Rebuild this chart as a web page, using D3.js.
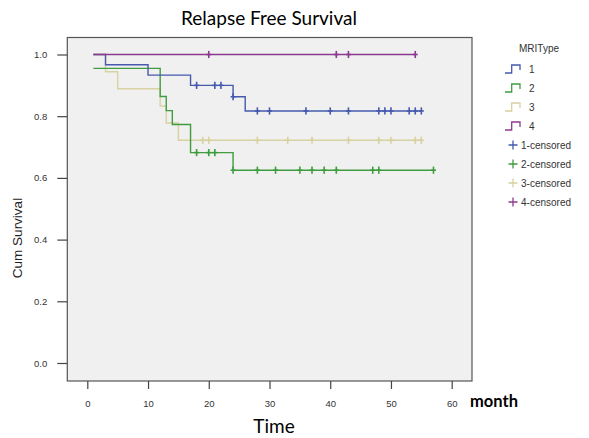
<!DOCTYPE html>
<html>
<head>
<meta charset="utf-8">
<script src="https://cdn.jsdelivr.net/npm/d3@7"></script>
<style>
  body { margin: 0; background: #fff; }
  svg { display: block; }
</style>
</head>
<body>
<script>
// survival steps per MRI type: event times and the level after each drop
const groups = ["1", "2", "3", "4"];
const colors = ["#4659ad", "#3f9c3f", "#d8d1a0", "#8c3a8f"];

const startTime = 1;
const eventTimes1 = [3, 10, 17, 24, 26];
const levels1 = [0.967, 0.933, 0.9, 0.863, 0.817];
const endTime1 = 55;
const censored1 = [18, 21, 22, 24, 28, 30, 36, 40, 43, 48, 49, 50, 53, 54, 55];

const eventTimes2 = [1, 12, 13, 14, 17, 24];
const levels2 = [0.955, 0.864, 0.818, 0.773, 0.682, 0.625];
const endTime2 = 57;
const censored2 = [18, 20, 21, 24, 28, 31, 35, 37, 39, 41, 47, 48, 57];

const eventTimes3 = [3, 5, 12, 13, 15];
const levels3 = [0.944, 0.889, 0.833, 0.778, 0.722];
const endTime3 = 55;
const censored3 = [19, 20, 28, 33, 37, 43, 48, 50, 54, 55];

const eventTimes4 = [];
const levels4 = [];
const endTime4 = 54;
const censored4 = [20, 41, 43, 54];

const xTicks = [0, 10, 20, 30, 40, 50, 60];
const yTicks = [0, 0.2, 0.4, 0.6, 0.8, 1.0];

const W = 589, H = 438;
const svg = d3.select("body").append("svg")
    .attr("width", W)
    .attr("height", H)
    .style("font-family", "'Liberation Sans', Arial, sans-serif");

const x = d3.scaleLinear().domain([0, 60]).range([87.3, 451.7]);
const y = d3.scaleLinear().domain([0, 1]).range([363, 54.5]);

const frame = { left: 67.3, right: 472, top: 37.5, bottom: 381 };

svg.append("rect")
    .attr("x", frame.left)
    .attr("y", frame.top)
    .attr("width", frame.right - frame.left)
    .attr("height", frame.bottom - frame.top)
    .attr("fill", "#f0f0f0")
    .attr("stroke", "#555")
    .attr("stroke-width", 1.2);

// axes
const xAxis = svg.append("g")
    .attr("transform", `translate(0,${frame.bottom})`)
    .call(d3.axisBottom(x).tickValues(xTicks).tickSize(8).tickPadding(11));
const yAxis = svg.append("g")
    .attr("transform", `translate(${frame.left},0)`)
    .call(d3.axisLeft(y).tickValues(yTicks).tickSize(10).tickPadding(10).tickFormat(d3.format(".1f")));

[xAxis, yAxis].forEach(g => {
    g.select(".domain").remove();
    g.selectAll("line").attr("stroke", "#444").attr("stroke-width", 1.2);
    g.selectAll("text")
        .attr("fill", "#333")
        .style("font-size", "9.5px")
        .style("font-family", "'Liberation Sans', Arial, sans-serif");
});

// curves
const series = [
    { times: eventTimes1, levels: levels1, end: endTime1, cens: censored1 },
    { times: eventTimes2, levels: levels2, end: endTime2, cens: censored2 },
    { times: eventTimes3, levels: levels3, end: endTime3, cens: censored3 },
    { times: eventTimes4, levels: levels4, end: endTime4, cens: censored4 }
];

const line = d3.line()
    .x(d => x(d[0]))
    .y(d => y(d[1]))
    .curve(d3.curveStepAfter);

function levelAt(s, t) {
    let v = 1;
    s.times.forEach((et, i) => { if (et <= t) v = s.levels[i]; });
    return v;
}

// draw beige first, then green, blue, purple on top
[2, 1, 0, 3].forEach(i => {
    const s = series[i];
    let pts = [[startTime, 1]];
    s.times.forEach((t, j) => {
        if (t === startTime) pts = [[startTime, s.levels[j]]];
        else pts.push([t, s.levels[j]]);
    });
    pts.push([s.end, levelAt(s, s.end)]);

    svg.append("path")
        .datum(pts)
        .attr("fill", "none")
        .attr("stroke", colors[i])
        .attr("stroke-width", 1.4)
        .attr("d", line);

    const marks = svg.append("g").attr("stroke", colors[i]).attr("stroke-width", 1.6);
    s.cens.forEach(t => {
        const cx = x(t), cy = y(levelAt(s, t));
        marks.append("line")
            .attr("x1", cx).attr("x2", cx)
            .attr("y1", cy - 3.6).attr("y2", cy + 3.6);
        marks.append("line")
            .attr("x1", cx - 2.5).attr("x2", cx + 2.5)
            .attr("y1", cy).attr("y2", cy);
    });
});

// titles
svg.append("text")
    .attr("x", 269)
    .attr("y", 25)
    .attr("text-anchor", "middle")
    .attr("fill", "#000")
    .style("font-family", "Lato, 'Open Sans', sans-serif")
    .style("font-size", "19px")
    .text("Relapse Free Survival");

svg.append("text")
    .attr("x", 274)
    .attr("y", 433)
    .attr("text-anchor", "middle")
    .attr("fill", "#000")
    .style("font-family", "Lato, 'Open Sans', sans-serif")
    .style("font-size", "19px")
    .text("Time");

svg.append("text")
    .attr("x", 470)
    .attr("y", 406.5)
    .attr("fill", "#000")
    .style("font-family", "Lato, 'Open Sans', sans-serif")
    .style("font-size", "16.5px")
    .style("font-weight", "bold")
    .text("month");

svg.append("text")
    .attr("transform", "translate(22,238) rotate(-90)")
    .attr("text-anchor", "middle")
    .attr("fill", "#222")
    .style("font-size", "13.5px")
    .text("Cum Survival");

// legend
const legend = svg.append("g").style("font-size", "10px").attr("fill", "#333");
legend.append("text").attr("x", 519).attr("y", 51.7).text("MRIType");

groups.forEach((g, i) => {
    const cy = 69 + i * 19;
    legend.append("path")
        .attr("d", `M505,${cy + 4}H511.7V${cy - 4}H520V${cy + 1}`)
        .attr("fill", "none")
        .attr("stroke", colors[i])
        .attr("stroke-width", 1.3);
    legend.append("text")
        .attr("x", 529)
        .attr("y", cy + 3.5)
        .text(g);
});

groups.forEach((g, i) => {
    const cy = 69 + (i + 4) * 19;
    legend.append("path")
        .attr("d", `M508.5,${cy}H517.5M513,${cy - 4.5}V${cy + 4.5}`)
        .attr("stroke", colors[i])
        .attr("stroke-width", 1.3);
    legend.append("text")
        .attr("x", 521)
        .attr("y", cy + 3.5)
        .text(g + "-censored");
});
</script>
</body>
</html>
